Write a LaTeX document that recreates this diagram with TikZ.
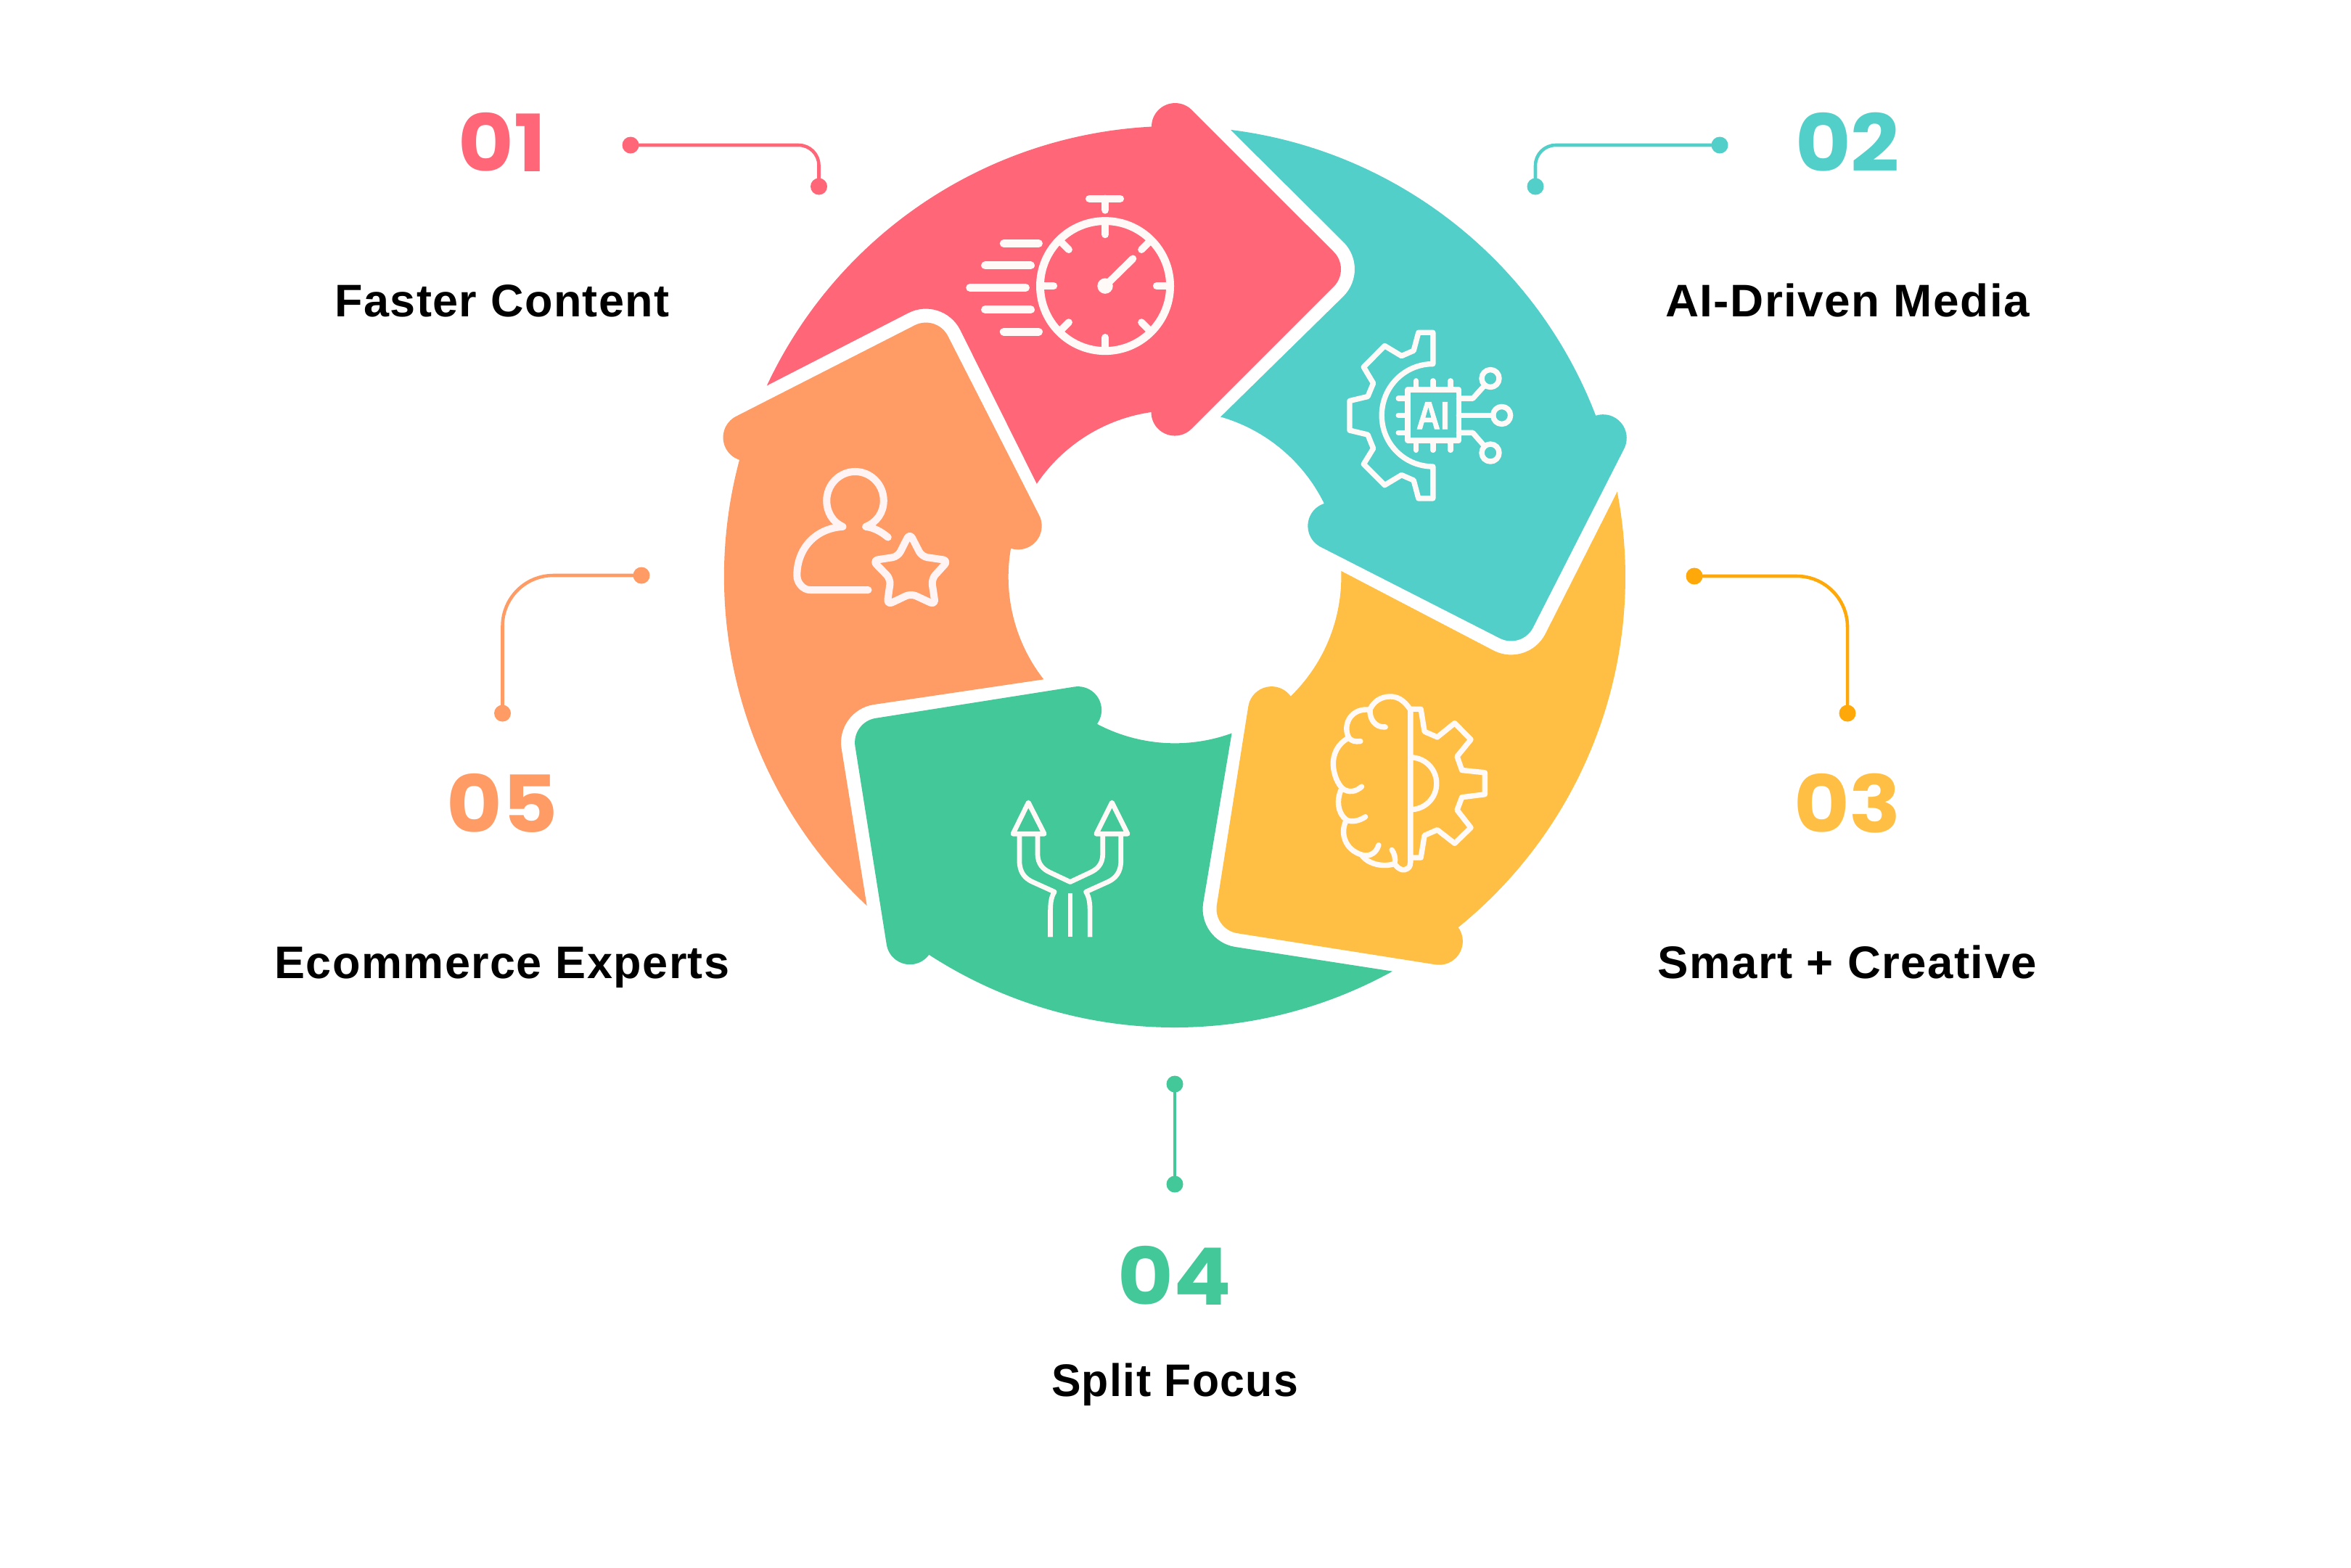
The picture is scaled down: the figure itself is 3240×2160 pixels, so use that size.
\documentclass[tikz,border=0pt]{standalone}
\usepackage{graphicx}
\usepackage{fontspec}
\setmainfont{Liberation Sans}
\newfontfamily\titlefont[LetterSpace=2.3]{Liberation Sans}
\newfontfamily\numfont[FakeStretch=1.08]{Poppins}
\newfontfamily\glyphfont[BoldFeatures={FakeBold=1.2}]{Liberation Sans}
\definecolor{cpink}{HTML}{FF6678}
\definecolor{cteal}{HTML}{52CFC9}
\definecolor{cyellow}{HTML}{FFBF45}
\definecolor{cgreen}{HTML}{43C89A}
\definecolor{corange}{HTML}{FF9C66}
\definecolor{camber}{HTML}{FFA80A}
\definecolor{iconwhite}{HTML}{FFFAF8}
\definecolor{iconblush}{HTML}{FFF3F3}
\tikzset{
  numlabel/.style={font=\numfont\bfseries\fontsize{31}{31}\selectfont,inner sep=0pt,anchor=base},
  titlelabel/.style={font=\titlefont\bfseries\fontsize{17.9}{18}\selectfont,text=black,inner sep=0pt,anchor=base},
  dotnode/.style={circle,fill=#1,draw=none,inner sep=0pt,minimum size=0.23cm},
  leader/.style={draw=#1,line width=1.3pt},
  icon/.style={draw=iconwhite,fill=none,line cap=round,line join=round,line width=#1},
}
\newcommand{\RingArrow}[2]{%
  \begin{scope}[shift={(1619,795)},y=0.01cm,rotate=#2]
    \fill[#1] (-562.2,263.5)
      arc[start angle=154.9,end angle=93,radius=6.21cm]
      arc[start angle=180,end angle=45,radius=0.325cm]
      -- (219,448)
      arc[start angle=45,end angle=-45,radius=0.34cm]
      -- (23,204)
      arc[start angle=-45,end angle=-180,radius=0.325cm]
      arc[start angle=98.15,end angle=146,radius=2.293cm]
      -- (-295.8,340.5)
      arc[start angle=27,end angle=117,radius=0.53cm]
      -- cycle;
  \end{scope}}
\begin{document}
\begin{tikzpicture}[x=0.01cm,y=-0.01cm]
\useasboundingbox (0,0) rectangle (3240,2160);
\fill[white] (0,0) rectangle (3240,2160);
\RingArrow{cpink}{0}
\RingArrow{cteal}{-72}
\RingArrow{cyellow}{-144}
\RingArrow{cgreen}{-216}
\RingArrow{corange}{-288}

% stopwatch
\begin{scope}[shift={(1320,260)},x=0.003333cm,y=-0.003333cm]
  \draw[icon=3.1pt] (610,403) circle[radius=0.895cm];
  \foreach \a in {0,45,...,315} \draw[icon=2.85pt] (610,403) ++(\a:268) -- ++(\a:-55);
  \draw[icon=2.85pt] (610,403) -- (725,290);
  \fill[iconwhite] (610,403) circle[radius=0.107cm];
  \draw[icon=3.1pt] (545,42) -- (672,42);
  \draw[icon=3.1pt] (610,42) -- (610,88);
  \draw[icon=3.1pt] (190,227) -- (335,227);
  \draw[icon=3.1pt] (113,318) -- (302,318);
  \draw[icon=3.1pt] (50,410) -- (281,410);
  \draw[icon=3.1pt] (113,501) -- (302,501);
  \draw[icon=3.1pt] (190,593) -- (335,593);
\end{scope}

% AI gear
\begin{scope}[shift={(1840,430)},x=0.003333cm,y=-0.003333cm]
  \draw[icon=2.1pt] (405,215) -- (405,85) -- (345,85) -- (325,160) -- (275,182) -- (205,140) -- (118,228) -- (158,295) -- (135,350) -- (60,368) -- (60,490) -- (135,508) -- (158,565) -- (118,630) -- (205,717) -- (275,675) -- (325,697) -- (345,772) -- (405,772) -- (405,640) .. controls (288,640) and (193,546) .. (193,428) .. controls (193,310) and (288,215) .. (405,215);
  \draw[icon=2.1pt] (300,322) rectangle (512,532);
  \foreach \p in {335,405,478} {\draw[icon=2.1pt] (\p,322) -- (\p,285); \draw[icon=2.1pt] (\p,532) -- (\p,572);}
  \foreach \p in {358,428,500} \draw[icon=2.1pt] (300,\p) -- (262,\p);
  \draw[icon=2.1pt] (512,428) -- (655,428);
  \draw[icon=2.1pt] (512,358) -- (570,358) -- (618,305);
  \draw[icon=2.1pt] (512,500) -- (570,500) -- (618,555);
  \draw[icon=2.1pt] (690,428) circle[radius=0.12cm];
  \draw[icon=2.1pt] (643,275) circle[radius=0.12cm];
  \draw[icon=2.1pt] (643,583) circle[radius=0.12cm];
  \node[inner sep=0pt,text=iconwhite,font=\glyphfont\bfseries\fontsize{15.4}{15}\selectfont,anchor=base] (aiglyph) at (405,485) {\scalebox{0.85}[1]{AI}};
\end{scope}

% brain gear
\begin{scope}[shift={(1820,940)},x=0.003333cm,y=-0.003333cm]
  \draw[icon=2.1pt] (372,745) -- (372,115) .. controls (345,75) and (320,60) .. (288,60) .. controls (250,60) and (220,80) .. (205,112) .. controls (200,150) and (225,190) .. (268,186);
  \draw[icon=2.1pt] (205,115) .. controls (130,105) and (90,170) .. (115,228) .. controls (125,245) and (145,248) .. (165,245);
  \draw[icon=2.1pt] (115,232) .. controls (70,255) and (50,300) .. (52,345) .. controls (55,385) and (70,420) .. (90,440) .. controls (115,460) and (145,455) .. (170,433);
  \draw[icon=2.1pt] (85,445) .. controls (65,490) and (70,540) .. (105,570) .. controls (130,582) and (160,575) .. (185,558);
  \draw[icon=2.1pt] (105,575) .. controls (80,625) and (100,695) .. (172,716) .. controls (205,725) and (232,705) .. (240,675);
  \draw[icon=2.1pt] (172,720) .. controls (195,750) and (255,770) .. (306,752) .. controls (312,730) and (305,710) .. (295,695);
  \draw[icon=2.1pt] (306,752) .. controls (320,775) and (345,785) .. (360,772) .. controls (370,765) and (372,755) .. (372,745);
  \draw[icon=2.1pt] (372,112) -- (415,112) -- (430,205) -- (483,228) -- (555,170) -- (622,238) -- (565,308) -- (585,365) -- (680,375) -- (680,465) -- (585,477) -- (565,530) -- (622,603) -- (555,668) -- (483,612) -- (430,635) -- (415,727) -- (372,727);
  \draw[icon=2.1pt] (372,312) .. controls (432,312) and (480,360) .. (480,420) .. controls (480,480) and (432,528) .. (372,528);
\end{scope}

% split arrows
\begin{scope}[shift={(1370,1090)},x=0.003333cm,y=-0.003333cm]
  \draw[icon=1.9pt] (142,48) -- (78,178) -- (208,178) -- cycle;
  \draw[icon=1.9pt] (488,48) -- (423,178) -- (553,178) -- cycle;
  \draw[icon=1.9pt,line cap=butt] (105,178) -- (105,290) .. controls (105,340) and (130,362) .. (155,375) -- (250,418) .. controls (235,440) and (233,470) .. (233,500) -- (233,605);
  \draw[icon=1.9pt,line cap=butt] (525,178) -- (525,290) .. controls (525,340) and (500,362) .. (475,375) -- (380,418) .. controls (395,440) and (397,470) .. (397,500) -- (397,605);
  \draw[icon=1.9pt,line cap=butt] (180,178) -- (180,260) .. controls (180,305) and (205,325) .. (230,337) -- (315,377) -- (400,337) .. controls (425,325) and (450,305) .. (450,260) -- (450,178);
  \draw[icon=1.9pt,line cap=butt] (315,425) -- (315,605);
\end{scope}

% person and star
\begin{scope}[shift={(1080,630)},x=0.003333cm,y=-0.003333cm]
  \draw[icon=2.85pt,draw=iconblush] (432,332) .. controls (405,310) and (375,292) .. (340,288) .. controls (385,270) and (414,230) .. (414,180) .. controls (414,115) and (362,60) .. (296,60) .. controls (230,60) and (178,115) .. (178,180) .. controls (178,230) and (205,270) .. (245,288) .. controls (130,295) and (55,380) .. (55,490) .. controls (55,520) and (80,550) .. (110,550) -- (350,550);
  \draw[icon=2.85pt,draw=iconblush,rounded corners=2.2pt] (522,315) -- (572,412) -- (682,428) -- (612,505) -- (628,612) -- (527,565) -- (428,612) -- (443,505) -- (368,428) -- (473,412) -- cycle;
\end{scope}

% leaders and labels
\node[dotnode=cpink] (d1a) at (869,200) {};
\node[dotnode=cpink] (d1b) at (1128.5,257) {};
\draw[leader=cpink,rounded corners=0.28cm] (d1a.center) -| (d1b.center);
\node[dotnode=cteal] (d2a) at (2370,200) {};
\node[dotnode=cteal] (d2b) at (2116,257) {};
\draw[leader=cteal,rounded corners=0.28cm] (d2a.center) -| (d2b.center);
\node[dotnode=camber] (d3a) at (2335,794) {};
\node[dotnode=camber] (d3b) at (2546,983) {};
\draw[leader=camber,rounded corners=0.7cm] (d3a.center) -| (d3b.center);
\node[dotnode=cgreen] (d4a) at (1619,1494) {};
\node[dotnode=cgreen] (d4b) at (1619,1632) {};
\draw[leader=cgreen] (d4a.center) -- (d4b.center);
\node[dotnode=corange] (d5a) at (884,793) {};
\node[dotnode=corange] (d5b) at (692.5,983) {};
\draw[leader=corange,rounded corners=0.7cm] (d5a.center) -| (d5b.center);

\node[numlabel,text=cpink] (n1) at (692,236) {01};
\node[numlabel,text=cteal] (n2) at (2546,236) {02};
\node[numlabel,text=cyellow] (n3) at (2546,1147) {03};
\node[numlabel,text=cgreen] (n4) at (1619,1798) {04};
\node[numlabel,text=corange] (n5) at (692,1147) {05};
\node[titlelabel] (t1) at (692,436) {Faster Content};
\node[titlelabel] (t2) at (2546,436) {\scalebox{1.015}[1]{AI-Driven Media}};
\node[titlelabel] (t3) at (2546,1348) {\scalebox{1.01}[1]{Smart + Creative}};
\node[titlelabel] (t4) at (1619,1924) {\scalebox{0.965}[1]{Split Focus}};
\node[titlelabel] (t5) at (692,1348) {Ecommerce Experts};
\end{tikzpicture}
\end{document}
